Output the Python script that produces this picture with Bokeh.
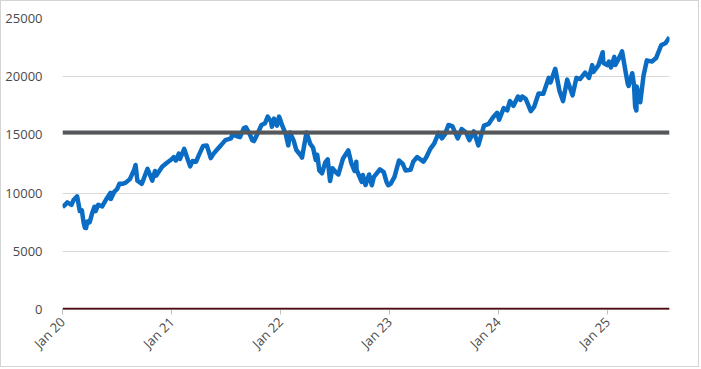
import pandas as pd
from bokeh.plotting import figure
from bokeh.models import Span, FixedTicker, DatetimeTickFormatter, NumeralTickFormatter
from bokeh.embed import file_html
from bokeh.resources import INLINE

# ---- data ----
d2020 = ["2020-01-01", "2020-01-10", "2020-01-17", "2020-01-31", "2020-02-07", "2020-02-19", "2020-02-28",
         "2020-03-06", "2020-03-09", "2020-03-12", "2020-03-16", "2020-03-20", "2020-03-24", "2020-03-27",
         "2020-04-01", "2020-04-09", "2020-04-17", "2020-04-21", "2020-04-30", "2020-05-13", "2020-05-29",
         "2020-06-10", "2020-06-11", "2020-06-23", "2020-07-02", "2020-07-10", "2020-07-20", "2020-07-31",
         "2020-08-14", "2020-08-28", "2020-09-02", "2020-09-08", "2020-09-23", "2020-10-12", "2020-10-28",
         "2020-11-06", "2020-11-10", "2020-11-30", "2020-12-15", "2020-12-31"]
v2020 = [8800, 9000, 9200, 8990, 9400, 9718, 8462,
         8530, 7950, 7436, 7020, 7000, 7550, 7580,
         7490, 8240, 8830, 8450, 9000, 8860, 9560,
         10020, 9490, 10130, 10340, 10800, 10800, 10900,
         11200, 12000, 12420, 11070, 10800, 12090, 11070,
         11900, 11500, 12270, 12590, 12890]

d2021 = ["2021-01-08", "2021-01-15", "2021-01-25", "2021-01-29", "2021-02-12", "2021-02-25", "2021-03-04",
         "2021-03-12", "2021-03-24", "2021-04-01", "2021-04-16", "2021-04-29", "2021-05-12", "2021-05-21",
         "2021-06-01", "2021-06-15", "2021-06-30", "2021-07-19", "2021-07-23", "2021-07-30", "2021-08-18",
         "2021-08-31", "2021-09-07", "2021-09-20", "2021-09-28", "2021-10-04", "2021-10-15", "2021-10-29",
         "2021-11-10", "2021-11-19", "2021-11-30", "2021-12-03", "2021-12-10", "2021-12-20", "2021-12-27",
         "2021-12-31"]
v2021 = [13100, 12800, 13400, 12930, 13800, 12800, 12300,
         12750, 12700, 13200, 14040, 14080, 13000, 13370,
         13700, 14100, 14550, 14700, 15030, 14960, 14800,
         15580, 15650, 15050, 14550, 14470, 15050, 15850,
         16000, 16570, 16140, 15700, 16400, 15800, 16570,
         16320]

d2022 = ["2022-01-05", "2022-01-18", "2022-01-27", "2022-02-02", "2022-02-14", "2022-02-23", "2022-03-08",
         "2022-03-14", "2022-03-29", "2022-04-11", "2022-04-20", "2022-04-29", "2022-05-04", "2022-05-11",
         "2022-05-20", "2022-05-31", "2022-06-08", "2022-06-16", "2022-06-24", "2022-07-05", "2022-07-14",
         "2022-07-29", "2022-08-16", "2022-08-26", "2022-09-06", "2022-09-12", "2022-09-13", "2022-09-30",
         "2022-10-04", "2022-10-13", "2022-10-25", "2022-11-03", "2022-11-10", "2022-11-30", "2022-12-13",
         "2022-12-22", "2022-12-28"]
v2022 = [15900, 15100, 14100, 15200, 14500, 13700, 13300,
         13050, 15200, 14200, 13900, 12850, 13300, 11950,
         11700, 12640, 12900, 11030, 12140, 11800, 11600,
         12950, 13670, 12600, 11900, 12700, 11990, 10970,
         11550, 10690, 11600, 10670, 11400, 12030, 11800,
         10980, 10680]

d2023 = ["2023-01-05", "2023-01-18", "2023-02-02", "2023-02-15", "2023-02-24", "2023-03-13", "2023-03-22",
         "2023-04-04", "2023-04-25", "2023-05-05", "2023-05-18", "2023-05-31", "2023-06-15", "2023-06-26",
         "2023-07-06", "2023-07-18", "2023-07-31", "2023-08-18", "2023-08-31", "2023-09-15", "2023-09-26",
         "2023-10-11", "2023-10-26", "2023-11-14", "2023-11-30", "2023-12-14", "2023-12-28"]
v2023 = [10800, 11400, 12800, 12500, 11950, 12000, 12700,
         13100, 12700, 13100, 13800, 14250, 15180, 14700,
         15050, 15850, 15750, 14700, 15500, 15200, 14550,
         15300, 14100, 15800, 15950, 16500, 16900]

d2024 = ["2024-01-04", "2024-01-19", "2024-01-31", "2024-02-09", "2024-02-21", "2024-03-07", "2024-03-15",
         "2024-03-21", "2024-04-02", "2024-04-19", "2024-04-30", "2024-05-15", "2024-05-31", "2024-06-18",
         "2024-06-24", "2024-07-10", "2024-07-24", "2024-08-05", "2024-08-19", "2024-09-06", "2024-09-19",
         "2024-10-01", "2024-10-18", "2024-10-31", "2024-11-11", "2024-11-15", "2024-12-02", "2024-12-16",
         "2024-12-18", "2024-12-31"]
v2024 = [16300, 17300, 17100, 17900, 17500, 18300, 18000,
         18300, 18100, 17040, 17400, 18550, 18540, 19900,
         19500, 20680, 18800, 17900, 19750, 18400, 19900,
         19800, 20350, 19900, 21000, 20400, 21000, 22100,
         21200, 21000]

d2025 = ["2025-01-06", "2025-01-13", "2025-01-24", "2025-01-27", "2025-02-07", "2025-02-19", "2025-03-03",
         "2025-03-10", "2025-03-13", "2025-03-25", "2025-03-31", "2025-04-03", "2025-04-04", "2025-04-08",
         "2025-04-09", "2025-04-21", "2025-05-02", "2025-05-13", "2025-05-30", "2025-06-13", "2025-06-30",
         "2025-07-15", "2025-07-28"]
v2025 = [21300, 20800, 21700, 21000, 21500, 22180, 20400,
         19400, 19200, 20300, 19300, 17800, 17400, 17100,
         19150, 17800, 20100, 21400, 21300, 21600, 22700,
         22900, 23400]

avg_level = 15200
zero_level = 0
y_ticks = [0, 5000, 10000, 15000, 20000, 25000]
x_tick_dates = ["2020-01-01", "2021-01-01", "2022-01-01", "2023-01-01", "2024-01-01", "2025-01-01"]
x_start, x_end = "2020-01-01", "2025-07-28"
y_start, y_end = 0, 25000

dates = pd.to_datetime(d2020 + d2021 + d2022 + d2023 + d2024 + d2025)
values = v2020 + v2021 + v2022 + v2023 + v2024 + v2025

FONT = "Open Sans"
TXT = "#4a4a4a"

p = figure(width=699, height=367, x_axis_type="datetime", output_backend="svg",
           toolbar_location=None,
           x_range=(pd.Timestamp(x_start), pd.Timestamp(x_end)),
           y_range=(y_start, y_end),
           min_border_left=61, min_border_right=31, min_border_top=17, min_border_bottom=59)
p.styles = {"border": "1px solid #d4d4d4"}

p.line(dates, values, line_color="#0b6cc4", line_width=4.5, line_join="round")

p.add_layout(Span(location=avg_level, dimension="width", line_color="#55575b", line_width=4))
p.add_layout(Span(location=zero_level, dimension="width", line_color="#4f0a10", line_width=3.5))

p.outline_line_color = None
p.background_fill_color = "white"
p.border_fill_color = "white"

p.xgrid.grid_line_color = None
p.ygrid.grid_line_color = "#d9d9d9"
p.ygrid.grid_line_width = 1

p.yaxis.ticker = FixedTicker(ticks=y_ticks)
p.yaxis.formatter = NumeralTickFormatter(format="0")
p.yaxis.axis_line_color = None
p.yaxis.major_tick_line_color = None
p.yaxis.minor_tick_line_color = None
p.yaxis.major_label_standoff = 14

tick_ms = [pd.Timestamp(d).value // 10**6 for d in x_tick_dates]
p.xaxis.ticker = FixedTicker(ticks=tick_ms)
p.xaxis.formatter = DatetimeTickFormatter(years="%b %y", months="%b %y", days="%b %y",
                                          hours="%b %y", hourmin="%b %y", minutes="%b %y",
                                          minsec="%b %y", seconds="%b %y", milliseconds="%b %y",
                                          microseconds="%b %y")
p.xaxis.axis_line_color = "#bfbfbf"
p.xaxis.major_tick_line_color = "#bfbfbf"
p.xaxis.major_tick_in = 0
p.xaxis.major_tick_out = 5
p.xaxis.minor_tick_line_color = None
p.xaxis.major_label_orientation = 0.785
p.xaxis.major_label_standoff = 5

for ax in (p.xaxis, p.yaxis):
    ax.major_label_text_font = FONT
    ax.major_label_text_font_size = "13px"
    ax.major_label_text_color = TXT

open("out.html", "w").write(file_html(p, INLINE))
